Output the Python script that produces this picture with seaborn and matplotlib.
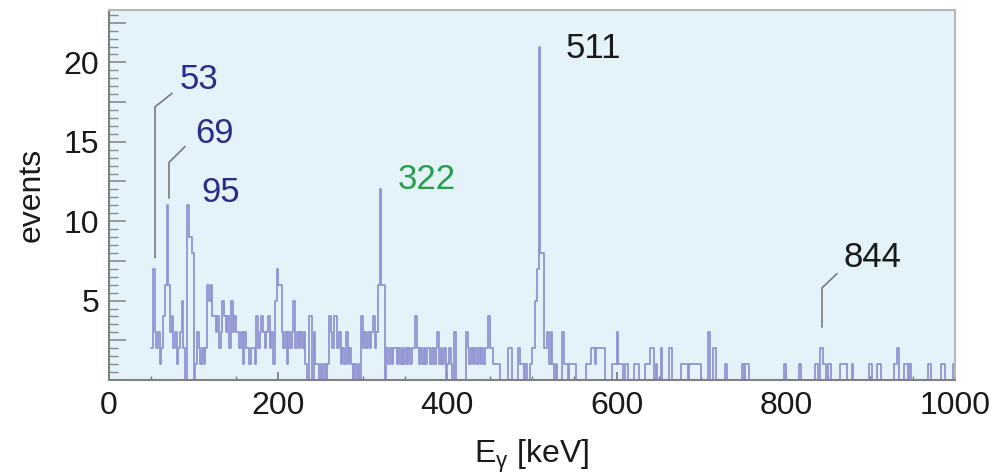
import numpy as np
import pandas as pd
import matplotlib
matplotlib.use("Agg")
import matplotlib.pyplot as plt
import seaborn as sns
from matplotlib.ticker import MultipleLocator, FuncFormatter

# ---------------- data: counts per 2 keV bin, starting at 50 keV ----------------
bin_start = 50
bin_width = 2
seg_050 = [2,7,3,2,3,1,2,4,6,11,6,3,4,2,3,1,2,3,5,2,0,11,9,9,8]
seg_100 = [0,1,3,2,1,2,1,2,6,5,6,4,4,3,4,2,3,5,4,3,4,2,5,3,4]
seg_150 = [3,3,2,3,1,3,2,2,1,2,2,1,4,2,3,4,3,2,3,4,2,3,1,5,7]
seg_200 = [6,6,3,2,3,1,3,2,3,5,2,3,2,3,2,3,1,0,4,4,0,3,1,1,0]
seg_250 = [1,0,1,0,1,4,3,2,4,4,2,3,1,2,1,3,1,2,1,0,1,0,1,0,4]
seg_300 = [2,3,2,3,2,3,4,2,3,6,12,6,6,0,2,1,2,1,2,2,1,2,1,2,1]
seg_350 = [2,1,2,1,2,2,4,2,1,2,1,2,1,2,2,1,2,1,2,3,1,2,1,2,0]
seg_400 = [1,2,1,0,3,0,0,0,0,0,0,3,2,1,2,1,2,1,2,1,2,1,2,2,4]
seg_450 = [2,2,1,1,1,1,0,0,0,0,0,2,2,0,0,0,0,2,1,1,0,1,0,0,1]
seg_500 = [2,2,5,7,21,8,8,2,2,3,1,3,1,0,1,0,0,0,3,1,1,0,1,1,1]
seg_550 = [1,0,0,0,0,0,0,1,1,1,2,2,1,2,2,2,2,2,0,0,0,0,1,1,1]
seg_600 = [3,1,1,1,0,1,1,0,0,0,1,1,1,0,0,0,0,1,1,1,2,2,0,1,0]
seg_650 = [0,2,0,0,0,0,2,2,0,0,0,0,0,1,1,1,1,0,1,1,1,1,1,1,1]
seg_700 = [0,0,0,0,3,0,0,2,2,0,0,0,0,0,1,0,0,0,0,0,0,0,0,0,1]
seg_750 = [0,1,1,0,0,0,0,0,0,0,0,0,0,0,0,0,0,0,0,0,0,0,0,0,1]
seg_800 = [0,0,0,0,0,0,0,0,1,0,0,0,0,0,0,0,0,1,1,0,2,2,1,1,0]
seg_850 = [1,1,0,0,0,0,0,1,1,1,1,0,0,0,1,0,0,0,0,0,0,0,0,0,1]
seg_900 = [1,0,0,0,1,1,0,0,0,0,0,0,0,0,1,1,2,0,0,0,1,1,0,1,0]
seg_950 = [0,0,0,0,0,0,0,0,0,1,1,0,0,0,0,0,0,1,1,0,0,0,0,0,1]

peak_labels = ["53", "69", "95", "322", "511", "844"]

counts = np.array(seg_050 + seg_100 + seg_150 + seg_200 + seg_250 + seg_300 +
                  seg_350 + seg_400 + seg_450 + seg_500 + seg_550 + seg_600 +
                  seg_650 + seg_700 + seg_750 + seg_800 + seg_850 + seg_900 + seg_950)
edges = bin_start + bin_width * np.arange(len(counts) + 1)
centers = 0.5 * (edges[:-1] + edges[1:])
df = pd.DataFrame({"energy": centers, "counts": counts})

# ---------------- styling ----------------
sns.set_theme(style="white")
plt.rcParams['font.family'] = ['Liberation Sans', 'DejaVu Sans']
plt.rcParams['mathtext.default'] = 'regular'

fig = plt.figure(figsize=(10, 4.76), dpi=100)
ax = fig.add_axes([0.109, 0.2017, 0.846, 0.7773])
ax.set_facecolor('#e4f3f9')

sns.histplot(data=df, x="energy", weights="counts", bins=list(edges),
             element='step', fill=False, color='#9194d3', linewidth=1.3, ax=ax)

ax.set_xlim(0, 1000)
ax.set_ylim(0, 23.3)

ax.xaxis.set_major_locator(MultipleLocator(200))
ax.xaxis.set_minor_locator(MultipleLocator(50))
ax.yaxis.set_major_locator(MultipleLocator(2.5))
ax.yaxis.set_minor_locator(MultipleLocator(0.5))
ax.yaxis.set_major_formatter(FuncFormatter(
    lambda v, p: f"{int(v)}" if (abs(v % 5) < 1e-6 and v > 0) else ""))

ax.tick_params(axis='x', which='both', bottom=True, top=False)
ax.tick_params(axis='y', which='both', left=True, right=False)
ax.tick_params(axis='x', which='major', direction='in', length=6, width=1.2,
               color='#777777', labelsize=23, pad=8, labelcolor='#1a1a1a')
ax.tick_params(axis='x', which='minor', direction='in', length=3, width=1.0,
               color='#777777')
ax.tick_params(axis='y', which='major', direction='in', length=12, width=1.2,
               color='#8a8a8a', labelsize=23, pad=7, labelcolor='#1a1a1a')
ax.tick_params(axis='y', which='minor', direction='in', length=6.5, width=1.0,
               color='#8a8a8a')

for s in ['left', 'bottom']:
    ax.spines[s].set_color('#808080')
    ax.spines[s].set_linewidth(1.5)
for s in ['top', 'right']:
    ax.spines[s].set_color('#b8b8b8')
    ax.spines[s].set_linewidth(1.5)

ax.set_xlabel(r'E$_{\gamma}$ [keV]', fontsize=23, color='#1a1a1a', labelpad=12)
ax.set_ylabel('events', fontsize=23, color='#1a1a1a', labelpad=12)

# ---------------- peak annotations ----------------
blue = '#2b2b8c'
green = '#2a9d4c'
black = '#1a1a1a'
lead_col = '#7a7a7a'
ann = [
    (peak_labels[0], (106, 18.9), blue, [(54.4, 7.7), (54.4, 17.2), (74.5, 18.05)]),
    (peak_labels[1], (125, 15.5), blue, [(70.9, 11.45), (70.9, 13.7), (89.8, 14.7)]),
    (peak_labels[2], (132, 11.8), blue, None),
    (peak_labels[3], (376, 12.6), green, None),
    (peak_labels[4], (572, 20.9), black, None),
    (peak_labels[5], (902, 7.7), black, [(842.8, 3.33), (842.8, 5.8), (860.5, 6.7)]),
]
for txt, pos, col, lead in ann:
    ax.text(pos[0], pos[1], txt, color=col, fontsize=25, ha='center', va='center')
    if lead:
        xs, ys = zip(*lead)
        ax.plot(xs, ys, color=lead_col, lw=1.2)

fig.savefig('out.png', dpi=100, facecolor='white')
